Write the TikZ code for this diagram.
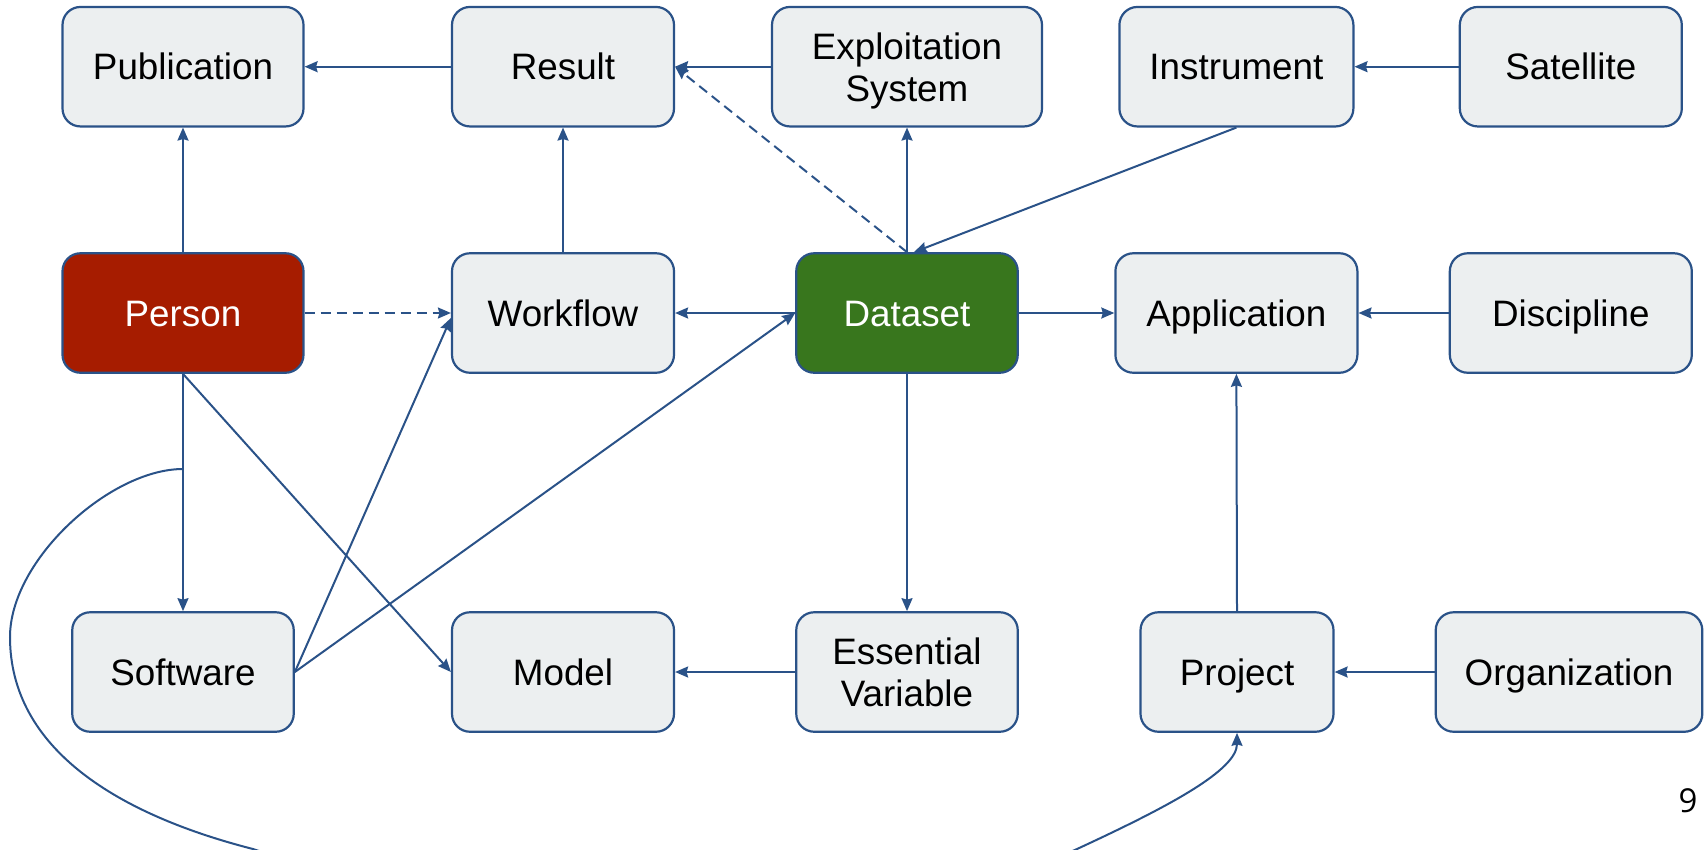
\documentclass[tikz,border=0pt]{standalone}
\usepackage{fontspec}
\setmainfont{Liberation Sans}
\newfontfamily\pagefont{Open Sans}
\usetikzlibrary{arrows.meta}
\definecolor{edge}{HTML}{2A5288}
\definecolor{boxfill}{HTML}{ECEFF0}
\definecolor{personred}{HTML}{A61C00}
\definecolor{datagreen}{HTML}{38761D}
% last line of a two-line label: keep its descenders out of the centring
\newcommand{\lastline}[1]{\raisebox{0pt}[\height][0pt]{#1}}

\begin{document}
\begin{tikzpicture}[x=1pt,y=-1pt,
  box/.style={draw=edge, fill=boxfill, line width=2.2pt, rounded corners=18pt,
    align=center, inner sep=0pt, minimum height=119.5pt,
    font=\fontsize{36.8}{42}\selectfont},
  onebox/.style={box, text height=26.5pt, text depth=0pt},
  link/.style={draw=edge, line width=2pt,
    -{Stealth[length=13pt,width=11pt,inset=1.5pt]}},
  dashlink/.style={link, dash pattern=on 10pt off 6pt}]
\useasboundingbox (0,0) rectangle (1704,849);
\clip (0,0) rectangle (1704,849);

% top row
\node[onebox, minimum width=241pt] (pub)   at (183,66.7)    {Publication};
\node[onebox, minimum width=222pt] (res)   at (563,66.7)    {Result};
\node[box, minimum width=270pt]    (expl)  at (907,66.7)    {Exploitation\\\lastline{System}};
\node[onebox, minimum width=234pt] (instr) at (1236.4,66.7) {Instrument};
\node[onebox, minimum width=222pt] (sat)   at (1570.8,66.7) {Satellite};

% middle row
\node[onebox, minimum width=241pt, fill=personred, text=white] (person) at (183,313) {Person};
\node[onebox, minimum width=222pt] (work) at (563,313) {Workflow};
\node[onebox, minimum width=221.5pt, fill=datagreen, text=white] (data) at (907,313) {Dataset};
\node[onebox, minimum width=242pt] (app)  at (1236.4,313) {Application};
\node[onebox, minimum width=242pt] (disc) at (1570.8,313) {Discipline};

% bottom row
\node[onebox, minimum width=221.5pt] (soft)  at (183,672)  {Software};
\node[onebox, minimum width=222pt]   (model) at (563,672)  {Model};
\node[box, minimum width=221.5pt]    (ev)    at (907,672)  {Essential\\\lastline{Variable}};
\node[onebox, minimum width=193pt]   (proj)  at (1237,672) {Project};
\node[onebox, minimum width=266.6pt] (org)   at (1569,672) {Organization};

% page number
\node[font=\pagefont\fontsize{33}{40}\selectfont, inner sep=0pt] (pageno) at (1688,801) {9};

% connectors
\draw[link] (res.west) -- (pub.east);
\draw[link] (person.north) -- (pub.south);
\draw[link] (work.north) -- (res.south);
\draw[link] (expl.west) -- (res.east);
\draw[dashlink] (data.north) -- (res.east);
\draw[link] (data.north) -- (expl.south);
\draw[link] (instr.south) -- ([xshift=7pt]data.north);
\draw[link] (sat.west) -- (instr.east);
\draw[dashlink] (person.east) -- (work.west);
\draw[link] (data.west) -- (work.east);
\draw[link] (data.east) -- (app.west);
\draw[link] (disc.west) -- (app.east);
\draw[link] (proj.north) -- (app.south);
\draw[link] (org.west) -- (proj.east);
\draw[link] (ev.west) -- (model.east);
\draw[link] (data.south) -- (ev.north);
\draw[link] (person.south) -- (soft.north);
\draw[link] (person.south) -- (model.west);
\draw[link] (soft.east) -- ([yshift=-5pt]work.west);
\draw[link] (soft.east) -- (data.west);

% long loop from the Person-Software line round to Project
\coordinate (fork) at (183,469);
\draw[link] (fork) .. controls (110,469) and (10,560) .. (10,637)
  .. controls (10,750) and (120,815) .. (253,849)
  .. controls (380,893) and (960,904) .. (1077,849)
  .. controls (1170,806) and (1237,770) .. (proj.south);
\end{tikzpicture}
\end{document}
